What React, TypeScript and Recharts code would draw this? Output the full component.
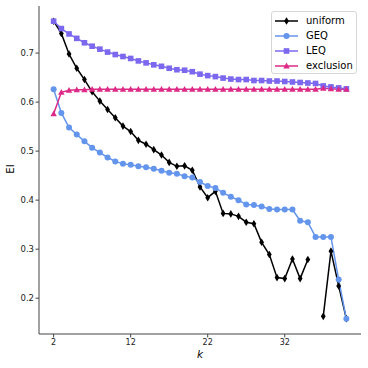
import { LineChart, Line, XAxis, YAxis } from 'recharts';

const kValues = [2, 3, 4, 5, 6, 7, 8, 9, 10, 11, 12, 13, 14, 15, 16, 17, 18, 19, 20, 21, 22, 23, 24, 25, 26, 27, 28, 29, 30, 31, 32, 33, 34, 35, 36, 37, 38, 39, 40];

const uniform = [0.765, 0.740, 0.698, 0.669, 0.646, 0.621, 0.602, 0.585, 0.568, 0.551, 0.540, 0.522, 0.514, 0.503, 0.492, 0.477, 0.469, 0.470, 0.461, 0.427, 0.405, 0.418, 0.373, 0.372, 0.367, 0.355, 0.352, 0.314, 0.289, 0.242, 0.240, 0.280, 0.240, 0.279, null, 0.163, 0.296, 0.225, 0.158];

const geq = [0.626, 0.578, 0.548, 0.534, 0.520, 0.507, 0.497, 0.487, 0.479, 0.474, 0.472, 0.469, 0.467, 0.464, 0.460, 0.456, 0.454, 0.449, 0.446, 0.437, 0.429, 0.425, 0.415, 0.407, 0.400, 0.391, 0.390, 0.387, 0.382, 0.381, 0.381, 0.381, 0.358, 0.355, 0.325, 0.325, 0.325, 0.238, 0.158];

const leq = [0.765, 0.750, 0.739, 0.730, 0.721, 0.714, 0.708, 0.702, 0.697, 0.693, 0.689, 0.684, 0.680, 0.676, 0.673, 0.669, 0.666, 0.665, 0.662, 0.657, 0.654, 0.652, 0.649, 0.647, 0.646, 0.646, 0.644, 0.644, 0.643, 0.643, 0.642, 0.641, 0.640, 0.639, 0.638, 0.633, 0.631, 0.629, 0.627];

const exclusion = [0.576, 0.620, 0.624, 0.625, 0.625, 0.626, 0.626, 0.626, 0.626, 0.626, 0.626, 0.626, 0.626, 0.626, 0.626, 0.626, 0.626, 0.626, 0.626, 0.626, 0.626, 0.626, 0.626, 0.626, 0.626, 0.626, 0.626, 0.626, 0.626, 0.626, 0.626, 0.626, 0.626, 0.626, 0.626, 0.628, 0.627, 0.626, 0.626];

const xTicks = [2, 12, 22, 32];
const yTicks = [0.2, 0.3, 0.4, 0.5, 0.6, 0.7];

const SERIES = [
  { key: 'uniform', label: 'uniform', color: '#000000', marker: 'diamond' },
  { key: 'geq', label: 'GEQ', color: '#6495ed', marker: 'circle' },
  { key: 'leq', label: 'LEQ', color: '#7b68ee', marker: 'square' },
  { key: 'exclusion', label: 'exclusion', color: '#dd2a87', marker: 'triangle' },
];

const data = kValues.map((k, i) => ({
  k,
  uniform: uniform[i],
  geq: geq[i],
  leq: leq[i],
  exclusion: exclusion[i],
}));

const FONT = '"DejaVu Sans", sans-serif';

const Marker = ({ type, cx, cy, color }: { type: string; cx: number; cy: number; color: string }) => {
  if (type === 'diamond') {
    return <polygon points={`${cx},${cy - 3.8} ${cx + 2.4},${cy} ${cx},${cy + 3.8} ${cx - 2.4},${cy}`} fill={color} />;
  }
  if (type === 'square') {
    return <rect x={cx - 2.8} y={cy - 2.8} width={5.6} height={5.6} fill={color} />;
  }
  if (type === 'triangle') {
    return <polygon points={`${cx},${cy - 3.4} ${cx + 3.2},${cy + 2.4} ${cx - 3.2},${cy + 2.4}`} fill={color} />;
  }
  return <circle cx={cx} cy={cy} r={3} fill={color} />;
};

const makeDot = (type: string, color: string) => (props: any) => {
  const { cx, cy, index, value } = props;
  if (cx == null || cy == null || value == null) return <g key={`e-${index}`} />;
  return <Marker key={`m-${index}`} type={type} cx={cx} cy={cy} color={color} />;
};

// legend drawn as an overlay so recharts doesn't reserve space for it
const LegendBox = () => (
  <div
    style={{
      position: 'absolute',
      left: 271,
      top: 11,
      background: 'rgba(255,255,255,0.8)',
      border: '1px solid #d6d6d6',
      borderRadius: 3,
      width: 86,
      height: 63,
      fontFamily: FONT,
      fontSize: 10,
      color: '#000',
      boxSizing: 'border-box',
      paddingTop: 1.5,
    }}
  >
    {SERIES.map(s => (
      <div key={s.key} style={{ display: 'flex', alignItems: 'center', height: 15 }}>
        <svg width={28} height={10} style={{ marginLeft: 2 }}>
          <line x1={1} y1={5} x2={24} y2={5} stroke={s.color} strokeWidth={1.5} />
          <Marker type={s.marker} cx={12.5} cy={5} color={s.color} />
        </svg>
        <span style={{ marginLeft: 4, lineHeight: '10px' }}>{s.label}</span>
      </div>
    ))}
  </div>
);

export default function App() {
  return (
    <div style={{ position: 'absolute', left: 0, top: 0, width: 368, height: 368, background: '#fff' }}>
      <LineChart width={368} height={368} data={data} margin={{ top: 6, right: 7, left: 0, bottom: 0 }}>
        <XAxis
          dataKey="k"
          type="number"
          domain={[0.1, 41.9]}
          ticks={xTicks}
          height={34}
          tickSize={3.5}
          tickMargin={2}
          axisLine={{ stroke: '#444', strokeWidth: 1 }}
          tickLine={{ stroke: '#444' }}
          tick={{ fontSize: 8, fill: '#222', fontFamily: FONT }}
          label={{
            content: () => (
              <text x={200} y={358} textAnchor="middle" fontFamily={FONT} fontSize={10.5} fontStyle="italic" fill="#000">
                k
              </text>
            ),
          }}
        />
        <YAxis
          type="number"
          domain={[0.127, 0.796]}
          ticks={yTicks}
          width={39}
          allowDataOverflow
          tickSize={3.5}
          tickMargin={1.5}
          axisLine={{ stroke: '#444', strokeWidth: 1 }}
          tickLine={{ stroke: '#444' }}
          tick={{ fontSize: 8.5, fill: '#222', fontFamily: FONT }}
          label={{
            content: () => (
              <text x={14} y={169} textAnchor="middle" transform="rotate(-90, 14, 169)" fontFamily={FONT} fontSize={10} fill="#000">
                EI
              </text>
            ),
          }}
        />
        {SERIES.map(s => (
          <Line
            key={s.key}
            dataKey={s.key}
            name={s.label}
            stroke={s.color}
            strokeWidth={1.5}
            dot={makeDot(s.marker, s.color)}
            activeDot={false}
            connectNulls={false}
            isAnimationActive={false}
          />
        ))}
      </LineChart>
      <LegendBox />
    </div>
  );
}
